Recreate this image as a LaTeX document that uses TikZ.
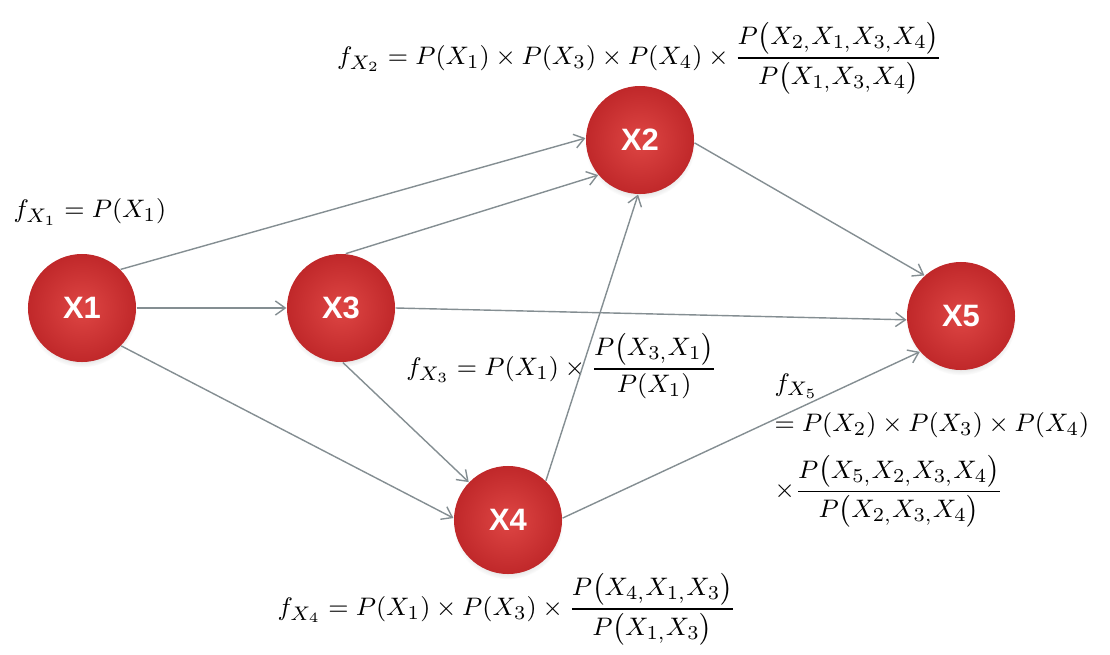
\documentclass[tikz,border=0pt]{standalone}
\usepackage{amsmath,amssymb}
\usepackage{fontspec}
\usepackage{xcolor}
\usepackage{tikz}
\usetikzlibrary{arrows.meta,shadows}
\newfontfamily\nodefont{Liberation Sans}
\definecolor{NodeRed}{RGB}{222,70,68}
\definecolor{NodeDark}{RGB}{192,40,42}
\definecolor{EdgeGray}{RGB}{132,142,146}
\tikzset{
  bnode/.style={circle,minimum size=1.35cm,inner sep=0pt,inner color=NodeRed,outer color=NodeDark,text=white,font=\nodefont\bfseries\fontsize{11}{13}\selectfont,circular drop shadow={shadow xshift=0pt,shadow yshift=-1.5pt,opacity=0.25,shadow scale=1.02}},
  arr/.style={-{Straight Barb[length=3.5pt,width=5pt]},EdgeGray,line width=0.5pt},
  eqn/.style={inner sep=0pt,font=\fontsize{9.45}{11.5}\selectfont},
}

\begin{document}
\begin{tikzpicture}[x={(0.0125cm,0)},y={(0,-0.0125cm)}]
    \useasboundingbox (0,0) rectangle (1110,654);
    %% Nodes
    \node[bnode] (x1) at (82,308)  {X1};
    \node[bnode] (x3) at (341,308) {X3};
    \node[bnode] (x2) at (640,140) {X2};
    \node[bnode] (x4) at (508,520) {X4};
    \node[bnode] (x5) at (961,316) {X5};
    %% Formulas
    \node[eqn] (f1) at (90,212) {$f_{X_1} = P(X_1)$};
    \node[eqn] (f2) at (640,58) {$f_{X_2} = P(X_1)\times P(X_3)\times P(X_4)\times\dfrac{P\bigl(X_{2,}X_{1,}X_{3,}X_4\bigr)}{P\bigl(X_{1,}X_{3,}X_4\bigr)}$};
    \node[eqn] (f3) at (562,366) {$f_{X_3} = P(X_1)\times\dfrac{P\bigl(X_{3,}X_1\bigr)}{P(X_1)}$};
    \node[eqn] (f4) at (507,609) {$f_{X_4} = P(X_1)\times P(X_3)\times\dfrac{P\bigl(X_{4,}X_{1,}X_3\bigr)}{P\bigl(X_{1,}X_3\bigr)}$};
    \node[eqn,anchor=north west] (f5) at (774,368) {$\begin{array}{@{}l@{}}
        f_{X_5}\\[3pt]
        = P(X_2)\times P(X_3)\times P(X_4)\\[5pt]
        \times\dfrac{P\bigl(X_{5,}X_{2,}X_{3,}X_4\bigr)}{P\bigl(X_{2,}X_{3,}X_4\bigr)}
      \end{array}$};
    %% Arrows
    \draw[arr] (x1.45)--(x2.178);
    \draw[arr] (x1.east)--(x3.west);
    \draw[arr] (x1.-44)--(x4.178);
    \draw[arr] (x3.85)--(x2.220);
    \draw[arr] (x3.east)--(x5.184);
    \draw[arr] (x3.-88)--(x4.136);
    \draw[arr] (x4.46)--(x2.-92);
    \draw[arr] (x4.2)--(x5.221);
    \draw[arr] (x2.-3)--(x5.132);
  \end{tikzpicture}
\end{document}
